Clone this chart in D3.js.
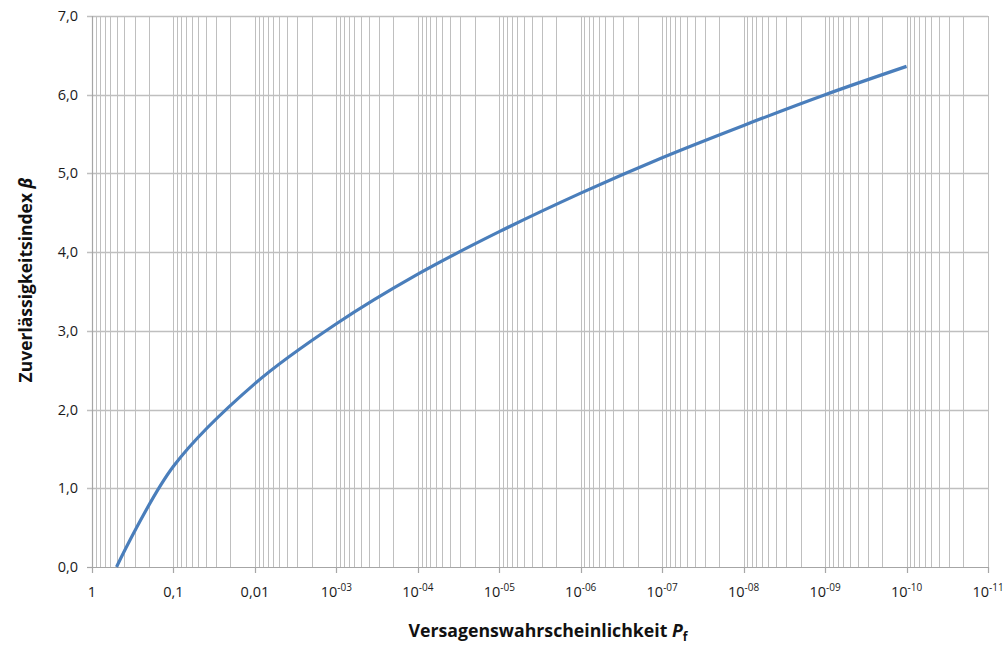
<!DOCTYPE html>
<html><head><meta charset="utf-8">
<script src="https://cdn.jsdelivr.net/npm/d3@7"></script>
<style>
body{margin:0;background:#fff;}
svg{display:block;font-family:"Open Sans","Noto Sans",sans-serif;}
</style></head>
<body><svg id="c" width="1003" height="648"></svg>
<script>
// Data
const pf   = [0.5, 0.1, 0.01, 1e-3, 1e-4, 1e-5, 1e-6, 1e-7, 1e-8, 1e-9, 1e-10];
const beta = [0.00, 1.28, 2.33, 3.09, 3.72, 4.26, 4.75, 5.20, 5.61, 6.00, 6.36];
const yTicks = [0,1,2,3,4,5,6,7];
const yTickLabels = ["0,0","1,0","2,0","3,0","4,0","5,0","6,0","7,0"];
const xExps = [0,-1,-2,-3,-4,-5,-6,-7,-8,-9,-10,-11];
const xTickLabels = ["1","0,1","0,01","10|-03","10|-04","10|-05","10|-06","10|-07","10|-08","10|-09","10|-10","10|-11"];

const svg = d3.select("#c");
const L=92, R=988, T=16, B=567;
const x = d3.scaleLog().domain([1,1e-11]).range([L,R]);
const y = d3.scaleLinear().domain([0,7]).range([B,T]);
const gridCol="#bfbfbf";

// minor/major vertical grid
const vgrid=[];
xExps.forEach(e=>{ if(e>-11){ for(let m=1;m<10;m++){ vgrid.push(m*Math.pow(10,e-1)); } } });
vgrid.push(1);
svg.append("g").selectAll("line").data(vgrid).join("line")
  .attr("x1",d=>Math.round(x(d))+0.5).attr("x2",d=>Math.round(x(d))+0.5)
  .attr("y1",T).attr("y2",B).attr("stroke",gridCol).attr("stroke-width",1);
// horizontal grid
svg.append("g").selectAll("line").data(yTicks.filter(d=>d>0)).join("line")
  .attr("x1",L-5).attr("x2",R).attr("y1",d=>Math.round(y(d))+0.5).attr("y2",d=>Math.round(y(d))+0.5)
  .attr("stroke",gridCol).attr("stroke-width",1.3);

// axes
const axCol="#a6a6a6";
svg.append("line").attr("x1",L+0.5).attr("x2",L+0.5).attr("y1",T).attr("y2",B).attr("stroke",axCol).attr("stroke-width",1.2);
svg.append("line").attr("x1",L).attr("x2",R).attr("y1",B+0.5).attr("y2",B+0.5).attr("stroke",axCol).attr("stroke-width",1.2);
svg.append("g").selectAll("line").data(xExps).join("line")
  .attr("x1",d=>Math.round(x(Math.pow(10,d)))+0.5).attr("x2",d=>Math.round(x(Math.pow(10,d)))+0.5)
  .attr("y1",B).attr("y2",B+6).attr("stroke",axCol).attr("stroke-width",1.2);
svg.append("line").attr("x1",L-5).attr("x2",L).attr("y1",B+0.5).attr("y2",B+0.5).attr("stroke",axCol).attr("stroke-width",1.2);

// y tick labels
svg.append("g").selectAll("text").data(yTicks).join("text")
  .attr("x",L-14).attr("y",d=>y(d)+5).attr("text-anchor","end")
  .attr("font-size",14.5).attr("fill","#1a1a1a").text((d,i)=>yTickLabels[i]);

// x tick labels
const xl = svg.append("g").selectAll("text").data(xExps).join("text")
  .attr("x",d=>x(Math.pow(10,d))).attr("y",B+30).attr("text-anchor","middle")
  .attr("font-size",14.5).attr("fill","#1a1a1a");
xl.each(function(d,i){
  const s=xTickLabels[i].split("|");
  const t=d3.select(this);
  t.append("tspan").text(s[0]);
  if(s[1]) t.append("tspan").attr("font-size",10).attr("dy",-6).text(s[1]);
});

// curve
svg.append("path").datum(pf.map((p,i)=>[p,beta[i]]))
  .attr("d",d3.line().x(d=>x(d[0])).y(d=>y(d[1])).curve(d3.curveCatmullRom.alpha(0.5)))
  .attr("fill","none").attr("stroke","#4a7ebb").attr("stroke-width",3.2).attr("stroke-linecap","butt");

// axis titles
const xt = svg.append("text").attr("x",548).attr("y",637).attr("text-anchor","middle")
  .attr("font-size",16).attr("font-weight","bold").attr("fill","#111");
xt.append("tspan").text("Versagenswahrscheinlichkeit ");
xt.append("tspan").attr("font-style","italic").text("P");
xt.append("tspan").attr("font-size",11).attr("dy",4).text("f");

const yt = svg.append("text").attr("transform","translate(32,280) rotate(-90)").attr("text-anchor","middle")
  .attr("font-size",16).attr("font-weight","bold").attr("fill","#111");
yt.append("tspan").text("Zuverlässigkeitsindex ");
yt.append("tspan").attr("font-style","italic").text("β");

// fit title widths to the reference
function fit(sel,w){ const n=sel.node(); const l=n.getComputedTextLength(); if(l>0){ const fs=+sel.attr("font-size"); sel.attr("font-size",fs*w/l); sel.selectAll("tspan").each(function(){const t=d3.select(this); if(t.attr("font-size")) t.attr("font-size",+t.attr("font-size")*w/l);}); } }
fit(xt,279); fit(yt,205);
</script></body></html>
